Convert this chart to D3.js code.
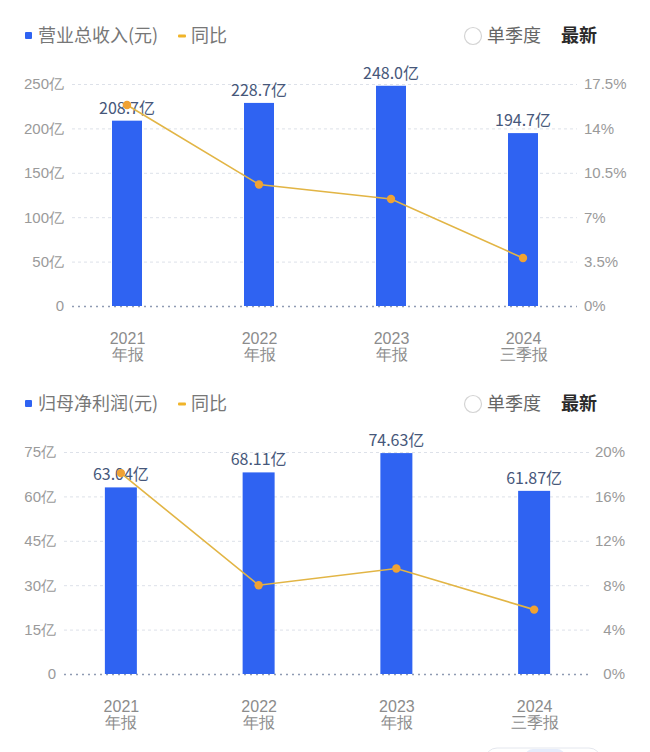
<!DOCTYPE html>
<html>
<head>
<meta charset="utf-8">
<script src="https://cdn.jsdelivr.net/npm/d3@7"></script>
<style>
  html, body { margin: 0; padding: 0; background: #fff; }
  svg { display: block; font-family: "Noto Sans CJK SC", "Noto Sans", sans-serif; }
</style>
</head>
<body>
<svg id="chart" width="650" height="752"></svg>
<script>
// data
var years = ["2021", "2022", "2023", "2024"];
var periods = ["年报", "年报", "年报", "三季报"];

var revenue = [208.7, 228.7, 248.0, 194.7];
var revenueLabels = ["208.7亿", "228.7亿", "248.0亿", "194.7亿"];
var revenueYoY = [15.84, 9.58, 8.44, 3.78];
var revenueTicks = [0, 50, 100, 150, 200, 250];
var revenueYoYTicks = [0, 3.5, 7, 10.5, 14, 17.5];

var profit = [63.04, 68.11, 74.63, 61.87];
var profitLabels = ["63.04亿", "68.11亿", "74.63亿", "61.87亿"];
var profitYoY = [18.1, 8.0, 9.5, 5.8];
var profitTicks = [0, 15, 30, 45, 60, 75];
var profitYoYTicks = [0, 4, 8, 12, 16, 20];

var svg = d3.select("#chart");

var barColor = "#2f63f2",
    lineColor = "#e2b545",
    dotColor = "#f0a233",
    axisText = "#9a9a9a",
    valueText = "#46577a";

function drawChart(opt) {
    var g = svg.append("g");

    // legend row
    var leg = g.append("g").attr("transform", "translate(0," + opt.legendY + ")");
    leg.append("rect").attr("x", 25).attr("y", -4).attr("width", 7).attr("height", 7)
        .attr("rx", 1).attr("fill", barColor);
    leg.append("text").attr("x", 38).attr("y", 0).attr("dy", "0.35em")
        .attr("font-size", 18).attr("fill", "#777").text(opt.title);
    leg.append("rect").attr("x", 178).attr("y", -1.5).attr("width", 8).attr("height", 3)
        .attr("rx", 1).attr("fill", "#f0b429");
    leg.append("text").attr("x", 191).attr("y", 0).attr("dy", "0.35em")
        .attr("font-size", 18).attr("fill", "#777").text("同比");
    leg.append("circle").attr("cx", 473).attr("cy", 0).attr("r", 8.5)
        .attr("fill", "#fff").attr("stroke", "#d4d4d4").attr("stroke-width", 1.2);
    leg.append("text").attr("x", 487).attr("y", 0).attr("dy", "0.35em")
        .attr("font-size", 18).attr("fill", "#666").text("单季度");
    leg.append("text").attr("x", 561).attr("y", 0).attr("dy", "0.35em")
        .attr("font-size", 18).attr("font-weight", "bold").attr("fill", "#2a2a2a").text("最新");

    var x = d3.scalePoint().domain(years).range(opt.xRange).padding(0.5);
    var y = d3.scaleLinear().domain([0, d3.max(opt.ticks)]).range([opt.y0, opt.y1]);
    var y2 = d3.scaleLinear().domain([0, d3.max(opt.yoyTicks)]).range([opt.y0, opt.y1]);

    // left axis, ticks stretched into gridlines
    var left = g.append("g")
        .attr("transform", "translate(" + opt.gridX[0] + ",0)")
        .call(d3.axisLeft(y).tickValues(opt.ticks)
            .tickSize(-(opt.gridX[1] - opt.gridX[0]))
            .tickPadding(opt.gridX[0] - opt.leftLabelX)
            .tickFormat(d => d === 0 ? "0" : d + "亿"));
    left.select(".domain").remove();
    left.selectAll(".tick line")
        .attr("stroke", d => d === 0 ? "#8f9bb3" : "#dde1e9")
        .attr("stroke-width", d => d === 0 ? 1.6 : 1)
        .attr("stroke-dasharray", d => d === 0 ? "2,4" : "3,3");
    left.selectAll(".tick text")
        .attr("font-size", 15).attr("fill", axisText);

    // right axis
    var right = g.append("g")
        .attr("transform", "translate(" + opt.gridX[1] + ",0)")
        .call(d3.axisRight(y2).tickValues(opt.yoyTicks).tickSize(0)
            .tickFormat(d => d + "%"));
    right.select(".domain").remove();
    right.selectAll(".tick text")
        .attr("font-size", 15).attr("fill", axisText)
        .attr("x", opt.rightLabelX - opt.gridX[1])
        .attr("text-anchor", opt.rightAnchor);

    // category axis, two lines per label
    var bottom = g.append("g")
        .attr("transform", "translate(0," + opt.xLabelY + ")")
        .call(d3.axisBottom(x).tickSize(0).tickFormat(""));
    bottom.select(".domain").remove();
    bottom.selectAll(".tick").each(function (d, i) {
        var t = d3.select(this).append("text")
            .attr("fill", "#8c8c8c").attr("font-size", 16).attr("text-anchor", "middle");
        t.append("tspan").attr("x", 0).attr("y", 0).text(d);
        t.append("tspan").attr("x", 0).attr("y", 16).text(periods[i]);
    });

    // bars
    g.selectAll(".bar").data(opt.values).enter().append("rect")
        .attr("class", "bar")
        .attr("x", (d, i) => x(years[i]) - opt.barW / 2)
        .attr("width", opt.barW)
        .attr("y", d => y(d))
        .attr("height", d => y(0) - y(d))
        .attr("fill", barColor);

    // value labels
    g.selectAll(".val").data(opt.values).enter().append("text")
        .attr("class", "val")
        .attr("x", (d, i) => x(years[i]))
        .attr("y", d => y(d) - 7)
        .attr("text-anchor", "middle")
        .attr("font-size", 16).attr("fill", valueText)
        .text((d, i) => opt.labels[i]);

    // yoy line
    var line = d3.line().x((d, i) => x(years[i])).y(d => y2(d));
    g.append("path").datum(opt.yoy)
        .attr("d", line).attr("fill", "none")
        .attr("stroke", lineColor).attr("stroke-width", 1.6);
    g.selectAll(".dot").data(opt.yoy).enter().append("circle")
        .attr("class", "dot")
        .attr("cx", (d, i) => x(years[i]))
        .attr("cy", d => y2(d))
        .attr("r", 4.2)
        .attr("fill", dotColor);
}

svg.append("rect").attr("width", 650).attr("height", 752).attr("fill", "#fff");

drawChart({
    title: "营业总收入(元)", legendY: 36,
    values: revenue, labels: revenueLabels, yoy: revenueYoY,
    ticks: revenueTicks, yoyTicks: revenueYoYTicks,
    y0: 306, y1: 84, xRange: [61, 589], barW: 30,
    gridX: [72, 577], leftLabelX: 64, rightLabelX: 584, rightAnchor: "start",
    xLabelY: 344
});

drawChart({
    title: "归母净利润(元)", legendY: 404,
    values: profit, labels: profitLabels, yoy: profitYoY,
    ticks: profitTicks, yoyTicks: profitYoYTicks,
    y0: 674, y1: 452, xRange: [52, 603], barW: 32,
    gridX: [64, 590], leftLabelX: 56, rightLabelX: 625, rightAnchor: "end",
    xLabelY: 712
});

// partly visible pill button at the bottom edge
svg.append("rect").attr("x", 485).attr("y", 748).attr("width", 116).attr("height", 24)
    .attr("rx", 12).attr("fill", "#fff").attr("stroke", "#e4e7ee");
svg.append("rect").attr("x", 525).attr("y", 749).attr("width", 40).attr("height", 22)
    .attr("rx", 8).attr("fill", "#e6ecfb");
</script>
</body>
</html>
